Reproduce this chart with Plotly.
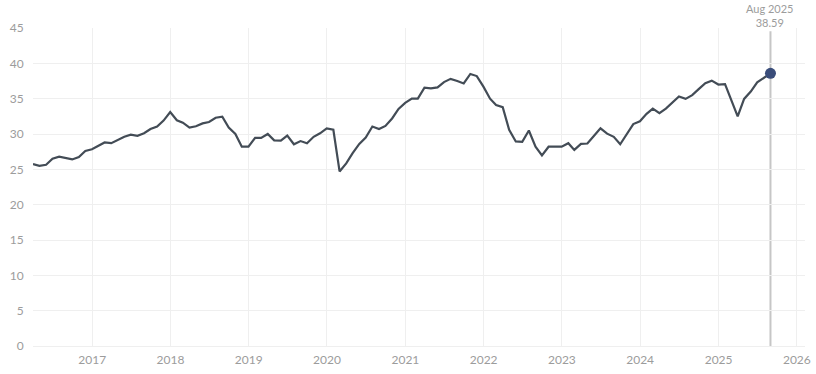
import pandas as pd
import plotly.graph_objects as go

# Monthly observations (month-end), Mar 2016 .. Aug 2025
start_month = "2016-03-31"
values = [
    25.75, 25.5, 25.65, 26.5, 26.8, 26.6, 26.4, 26.75, 27.6, 27.85,
    28.35, 28.8, 28.7, 29.15, 29.6, 29.9, 29.75, 30.1, 30.7, 31.05,
    31.9, 33.1, 31.95, 31.6, 30.9, 31.1, 31.5, 31.7, 32.3, 32.45,
    30.9, 30.0, 28.2, 28.2, 29.45, 29.45, 30.0, 29.1, 29.06, 29.77,
    28.55, 29.0, 28.7, 29.6, 30.1, 30.8, 30.6, 24.7, 25.85, 27.3,
    28.6, 29.5, 31.06, 30.7, 31.15, 32.2, 33.55, 34.4, 35.0, 35.0,
    36.55, 36.45, 36.6, 37.35, 37.8, 37.5, 37.15, 38.5, 38.2, 36.7,
    35.0, 34.1, 33.8, 30.6, 28.95, 28.9, 30.5, 28.2, 26.98, 28.2,
    28.2, 28.2, 28.7, 27.75, 28.6, 28.65, 29.75, 30.8, 30.05, 29.6,
    28.55, 30.05, 31.4, 31.8, 32.85, 33.6, 32.95, 33.6, 34.45, 35.3,
    34.97, 35.5, 36.35, 37.2, 37.55, 37.0, 37.05, 34.75, 32.5, 34.96,
    36.0, 37.3, 37.9, 38.59,
]
dates = pd.date_range(start_month, periods=len(values), freq="ME")

last_label = "Aug 2025"
last_value_text = "38.59"
y_ticks = [0, 5, 10, 15, 20, 25, 30, 35, 40, 45]
x_range = ["2016-03-31", "2026-02-08"]

line_color = "#434c56"
marker_color = "#3a4d7a"
text_color = "#9c9c9c"
grid_color = "#efefef"

fig = go.Figure()
fig.add_trace(go.Scatter(
    x=dates, y=values, mode="lines",
    line=dict(color=line_color, width=2.2),
    hoverinfo="skip", showlegend=False,
))
fig.add_trace(go.Scatter(
    x=[dates[-1]], y=[values[-1]], mode="markers",
    marker=dict(color=marker_color, size=11),
    hoverinfo="skip", showlegend=False,
))

fig.add_shape(type="line", xref="x", yref="paper",
              x0=dates[-1], x1=dates[-1], y0=0, y1=0.99,
              line=dict(color="#c6c6c6", width=2), layer="below")

fig.add_annotation(x=dates[-1], xref="x", y=1.0, yref="paper",
                   yanchor="bottom", xanchor="center", showarrow=False,
                   text=f"{last_label}<br>{last_value_text}",
                   font=dict(size=11, color=text_color, family="Lato"),
                   yshift=-3)

fig.update_layout(
    width=816, height=374,
    margin=dict(l=33, r=11, t=28, b=28, autoexpand=False),
    paper_bgcolor="white", plot_bgcolor="white",
    font=dict(family="Lato", size=12, color=text_color),
    hovermode=False,
)
fig.update_xaxes(
    type="date", range=x_range, dtick="M12", tick0="2017-01-01",
    tickformat="%Y", showgrid=True, gridcolor=grid_color, gridwidth=1,
    zeroline=False, showline=False, ticks="outside", ticklen=3,
    tickcolor="rgba(0,0,0,0)", tickfont=dict(size=12, color=text_color),
    automargin=False,
)
fig.update_yaxes(
    range=[0, 45], tickvals=y_ticks, showgrid=True, gridcolor=grid_color,
    gridwidth=1, zeroline=True, zerolinecolor=grid_color, zerolinewidth=1,
    showline=False, ticks="outside", ticklen=6, tickcolor="rgba(0,0,0,0)",
    tickfont=dict(size=12, color=text_color), automargin=False,
)

fig.write_html(
    "out.html",
    config={"displayModeBar": False, "staticPlot": True},
    post_script="document.body.style.margin='0px';document.body.style.padding='0px';document.body.style.overflow='hidden';",
)
